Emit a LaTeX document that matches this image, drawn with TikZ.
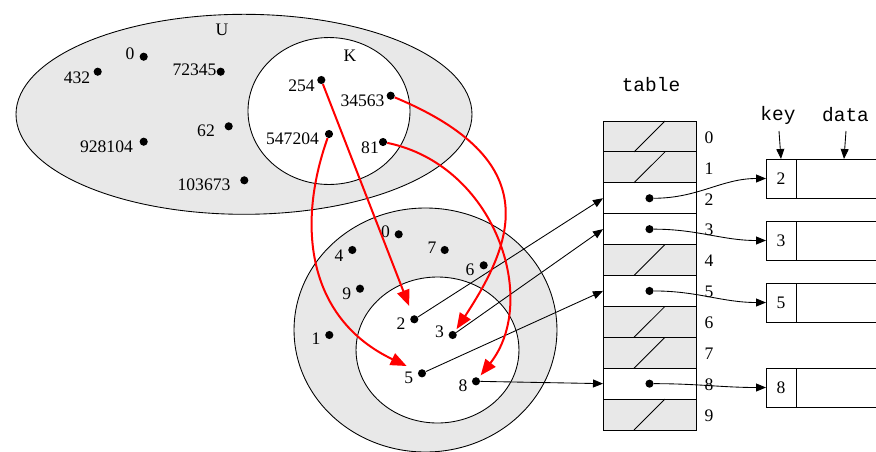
\documentclass[tikz,border=0pt]{standalone}
\usepackage{fontspec}
\setmainfont{Liberation Serif}
\setmonofont{Liberation Mono}
\usetikzlibrary{arrows.meta}
\definecolor{setgray}{RGB}{232,232,232}

\begin{document}
\begin{tikzpicture}[x=0.75pt,y=-0.75pt,
  lbl/.style={inner sep=0pt, font=\fontsize{13.2}{15}\selectfont},
  ttl/.style={inner sep=0pt, font=\ttfamily\fontsize{14.6}{16}\selectfont},
  dot/.style={circle, fill=black, inner sep=0pt, minimum size=6.1pt},
  setline/.style={draw=black, line width=0.65pt},
  ptr/.style={draw=black, line width=0.65pt, -{Triangle[length=7.5pt,width=6pt]}},
  hsh/.style={draw=red, line width=1.5pt, -{Triangle[length=12pt,width=9.5pt]}},
  slot/.style={draw=black, line width=0.65pt, minimum width=69.75pt,
    minimum height=23.175pt, inner sep=0pt, outer sep=0pt},
  freeslot/.style={slot, fill=setgray},
  fullslot/.style={slot, fill=white},
  keycell/.style={draw=black, line width=0.65pt, fill=white, minimum width=22.5pt,
    minimum height=29.25pt, inner sep=0pt, outer sep=0pt,
    font=\fontsize{13.2}{15}\selectfont},
  datacell/.style={draw=black, line width=0.65pt, fill=white, minimum width=72pt,
    minimum height=29.25pt, inner sep=0pt, outer sep=0pt}
]
\clip (0,0) rectangle (876,451);

% universe U and actual keys K
\draw[setline, fill=setgray] (244,114.3) ellipse [x radius=171pt, y radius=75pt];
\draw[setline, fill=white] (329,111) ellipse [x radius=60.75pt, y radius=55.1pt];
\node[lbl] (U) at (222,29.5) {U};
\node[lbl] (K) at (350,56) {K};

% slots 0..9 as sets
\draw[setline, fill=setgray] (425.5,330) ellipse [x radius=98.6pt, y radius=91.5pt];
\draw[setline, fill=white] (437.5,350) ellipse [x radius=61.1pt, y radius=54.75pt];

% keys in U
\node[dot] (u0) at (143.7,56.7) {};       \node[lbl] (lu0) at (130,54) {0};
\node[dot] (u432) at (97.7,71.7) {};      \node[lbl] (lu432) at (77,77.5) {432};
\node[dot] (u72345) at (220.7,71.7) {};   \node[lbl] (lu72345) at (194.5,70) {72345};
\node[dot] (u62) at (228.7,126.3) {};     \node[lbl] (lu62) at (206,131) {62};
\node[dot] (u928104) at (143.7,141.7) {}; \node[lbl] (lu928104) at (106.5,147) {928104};
\node[dot] (u103673) at (244.3,180.3) {}; \node[lbl] (lu103673) at (204,185) {103673};
\node[dot] (k254) at (321.3,80) {};       \node[lbl] (lk254) at (301.5,86) {254};
\node[dot] (k34563) at (390.7,95.7) {};   \node[lbl] (lk34563) at (362.5,100.5) {34563};
\node[dot] (k547204) at (329,134) {};     \node[lbl] (lk547204) at (292.5,139) {547204};
\node[dot] (k81) at (383,142) {};         \node[lbl] (lk81) at (370,147.5) {81};

% hash table
\node[ttl] (tbl) at (651,85) {table};
\foreach \i/\st in {0/freeslot,1/freeslot,2/fullslot,3/fullslot,4/freeslot,
                    5/fullslot,6/freeslot,7/freeslot,8/fullslot,9/freeslot}
  \node[\st] (r\i) at (649.5,{136.45+30.9*\i}) {};
\foreach \i in {0,1,4,6,7,9}
  \draw[setline] ([xshift=-11.6pt]r\i.south) -- ([xshift=11.6pt]r\i.north);
\foreach \i in {0,...,9}
  \node[lbl] (n\i) at ([xshift=9.75pt,yshift=-0.75pt]r\i.east) {\i};
\foreach \i in {2,3,5,8}
  \node[dot] (p\i) at (r\i) {};

% slot values inside the lower sets
\node[dot] (c0) at (398.7,234.3) {}; \node[lbl] (lc0) at (385.5,231.5) {0};
\node[dot] (c7) at (444.7,250) {};   \node[lbl] (lc7) at (432,248) {7};
\node[dot] (c4) at (352.3,250) {};   \node[lbl] (lc4) at (339,256) {4};
\node[dot] (c6) at (483.7,265.3) {}; \node[lbl] (lc6) at (470,270) {6};
\node[dot] (c9) at (360,288.7) {};   \node[lbl] (lc9) at (346.7,293.5) {9};
\node[dot] (c1) at (329.3,335) {};   \node[lbl] (lc1) at (316,339) {1};
\node[dot] (c2) at (414.3,319.3) {}; \node[lbl] (lc2) at (401,323.5) {2};
\node[dot] (c3) at (452.7,335) {};   \node[lbl] (lc3) at (439.5,332) {3};
\node[dot] (c5) at (422,373.3) {};   \node[lbl] (lc5) at (408.7,378) {5};
\node[dot] (c8) at (476,381.3) {};   \node[lbl] (lc8) at (463,386) {8};

% element records
\node[ttl] (keylbl) at (778,115.5) {key};
\node[ttl] (datalbl) at (845.5,114.5) {data};
\coordinate (keytail) at (779,131);
\coordinate (datatail) at (846,131);
\foreach \v/\y in {2/178.5,3/240.5,5/302.5,8/387.5}{
  \node[keycell] (e\v) at (781,\y) {\v};
  \node[datacell] (f\v) at (844,\y) {};
}
\draw[ptr] (keytail) -- (e2.north);
\draw[ptr] (datatail) -- (f2.north);

% slot pointers to records
\foreach \v in {2,3,5,8}
  \draw[ptr] (p\v) to[out=0,in=180] (e\v.west);

% slot values to table slots
\foreach \v in {2,3,5,8}
  \draw[ptr] (c\v) -- (r\v.west);

% hash function h
\draw[hsh, shorten >=7.5pt] (k254) -- (c2);
\draw[hsh, shorten >=2pt] (k34563) .. controls (545,160) and (515,240) .. (c3);
\draw[hsh, shorten >=9.5pt] (k547204) .. controls (295,230) and (310,320) .. (c5);
\draw[hsh, shorten >=2.4pt] (k81) .. controls (495,165) and (540,300) .. (c8);
\end{tikzpicture}
\end{document}
